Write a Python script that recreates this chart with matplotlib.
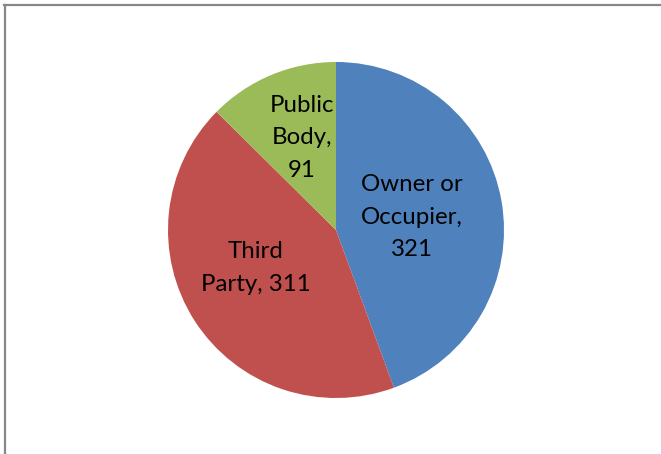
import matplotlib
matplotlib.use("Agg")
import matplotlib.pyplot as plt
from matplotlib.lines import Line2D

categories = ["Owner or Occupier", "Third Party", "Public Body"]
values = [321, 311, 91]
label_texts = ["Owner or\nOccupier,\n321", "Third\nParty, 311", "Public\nBody,\n91"]
colors = ["#4F81BD", "#C0504D", "#9BBB59"]

W, H = 661, 454
fig = plt.figure(figsize=(W / 100, H / 100), dpi=100)
fig.patch.set_facecolor("white")

cx, cy, r = 336, 230, 168
ax = fig.add_axes([(cx - r) / W, (H - cy - r) / H, 2 * r / W, 2 * r / H])
ax.pie(values, colors=colors, startangle=90, counterclock=False,
       wedgeprops=dict(linewidth=0), radius=1.0)
ax.set_xlim(-1, 1)
ax.set_ylim(-1, 1)
ax.set_aspect("equal")
ax.axis("off")

# label centres in pixel coords
label_px = [(412, 217), (256, 268), (302, 138)]
for txt, (px, py) in zip(label_texts, label_px):
    ax.text((px - cx) / r, (cy - py) / r, txt, ha="center", va="center",
            multialignment="center", fontsize=17.3, family="Lato",
            color="black", linespacing=1.68)

# frame lines (left and top)
fig.add_artist(Line2D([5 / W, 5 / W], [0, 1 - 4.5 / H], transform=fig.transFigure,
                      color="#878787", linewidth=1.6))
fig.add_artist(Line2D([4 / W, 1], [1 - 4.5 / H, 1 - 4.5 / H], transform=fig.transFigure,
                      color="#878787", linewidth=1.6))

fig.savefig("out.png", dpi=100)
